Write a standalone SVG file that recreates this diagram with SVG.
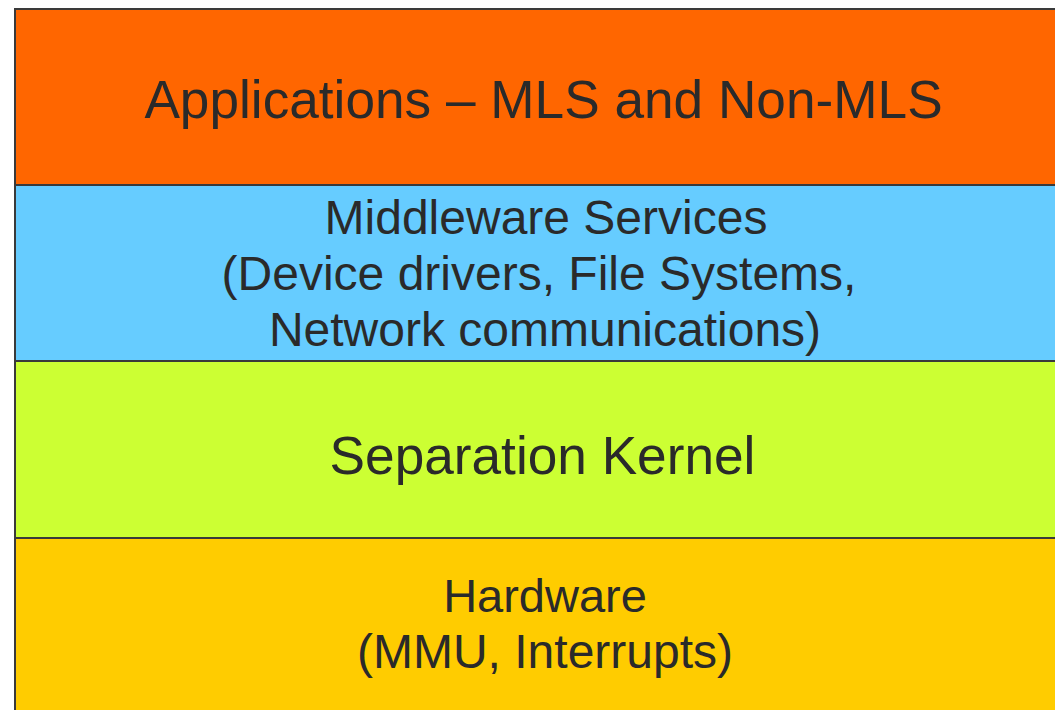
<svg xmlns="http://www.w3.org/2000/svg" width="1055" height="710" viewBox="0 0 1055 710">
<style>
.layer{stroke:#3a3a3a;stroke-width:2}
.t{font-family:"Liberation Sans",Arial,sans-serif;fill:#2a2a2a;text-anchor:middle}
.m{font-size:48px}
</style>
<rect width="1055" height="710" fill="#ffffff"/>
<g id="applications">
<rect class="layer" x="15" y="9" width="1060" height="176" fill="#FF6600"/>
<text class="t" x="543.5" y="118" font-size="53.2">Applications – MLS and Non-MLS</text>
</g>
<g id="middleware">
<rect class="layer" x="15" y="185" width="1060" height="176" fill="#66CCFF"/>
<text class="t m" x="546" y="234">Middleware Services</text>
<text class="t m" x="539" y="290">(Device drivers, File Systems,</text>
<text class="t m" x="545" y="346">Network communications)</text>
</g>
<g id="kernel">
<rect class="layer" x="15" y="361" width="1060" height="177" fill="#CCFF33"/>
<text class="t" x="542.5" y="474" font-size="53.2">Separation Kernel</text>
</g>
<g id="hardware">
<rect class="layer" x="15" y="538" width="1060" height="200" fill="#FFCC00"/>
<text class="t" x="545" y="612" font-size="47">Hardware</text>
<text class="t" x="545" y="668" font-size="48">(MMU, Interrupts)</text>
</g>
<g id="connectors"></g>
</svg>
